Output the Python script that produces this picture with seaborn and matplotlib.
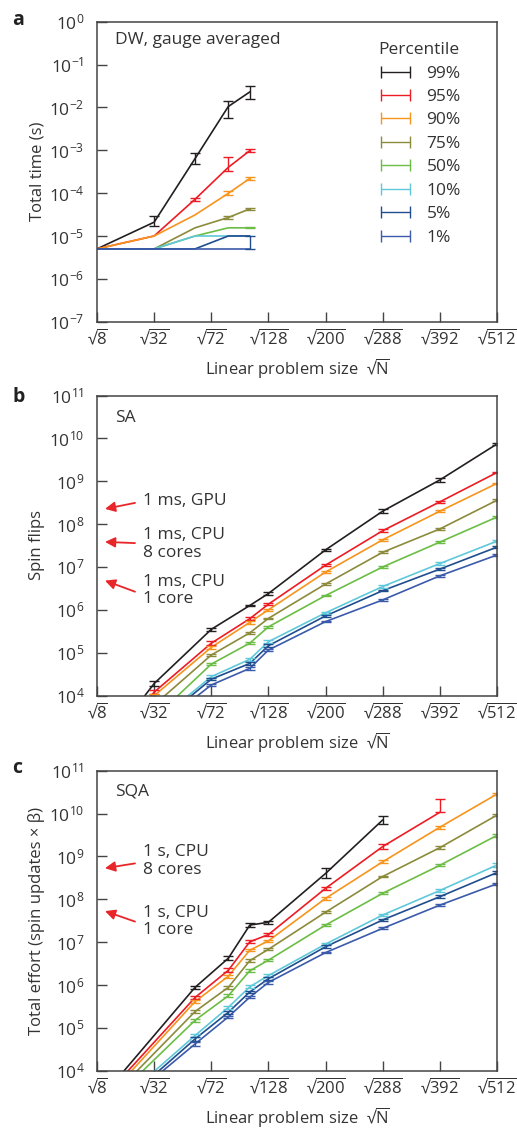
import numpy as np
import pandas as pd
import matplotlib
matplotlib.use("Agg")
import matplotlib.pyplot as plt
import seaborn as sns
from matplotlib.ticker import LogFormatterMathtext, NullLocator, FixedLocator
from matplotlib.container import ErrorbarContainer
from matplotlib.legend_handler import HandlerErrorbar

# ---------------- data ----------------
percentiles = ["99%", "95%", "90%", "75%", "50%", "10%", "5%", "1%"]
colors = ["#231f20", "#ed1c24", "#f7941d", "#8c8a3b", "#6cbd45", "#5fc8da", "#1f4d8e", "#3b5aaa"]

tick_N = [8, 32, 72, 128, 200, 288, 392, 512]
tick_labels = ["$\u221a\\overline{8}$", "$\u221a\\overline{32}$", "$\u221a\\overline{72}$",
               "$\u221a\\overline{128}$", "$\u221a\\overline{200}$", "$\u221a\\overline{288}$",
               "$\u221a\\overline{392}$", "$\u221a\\overline{512}$"]

# Panel a: DW, gauge averaged (total time, s)
dw_N = [8, 32, 59, 87, 108]
dw_vals = {
    "99%": [5.0e-6, 2.1e-5, 6.4e-4, 1.05e-2, 2.3e-2],
    "95%": [5.0e-6, 1.0e-5, 7.2e-5, 4.0e-4, 9.8e-4],
    "90%": [5.0e-6, 1.0e-5, 3.1e-5, 9.9e-5, 2.2e-4],
    "75%": [5.0e-6, 5.0e-6, 1.55e-5, 2.7e-5, 4.3e-5],
    "50%": [5.0e-6, 5.0e-6, 1.0e-5, 1.55e-5, 1.55e-5],
    "10%": [5.0e-6, 5.0e-6, 1.0e-5, 1.0e-5, 1.0e-5],
    "5%":  [5.0e-6, 5.0e-6, 5.0e-6, 1.0e-5, 1.0e-5],
    "1%":  [5.0e-6, 5.0e-6, 5.0e-6, 5.0e-6, 5.0e-6],
}
# error bar extents in decades (lower, upper)
dw_err_lo = {
    "99%": [0, 0.10, 0.13, 0.27, 0.17], "95%": [0, 0, 0.03, 0.08, 0.03],
    "90%": [0, 0, 0, 0.04, 0.03], "75%": [0, 0, 0, 0.03, 0.02],
    "50%": [0, 0, 0, 0, 0.01], "10%": [0, 0, 0, 0, 0],
    "5%": [0, 0, 0, 0, 0.30], "1%": [0, 0, 0, 0, 0],
}
dw_err_hi = {
    "99%": [0, 0.14, 0.12, 0.14, 0.14], "95%": [0, 0, 0.03, 0.24, 0.04],
    "90%": [0, 0, 0, 0.05, 0.03], "75%": [0, 0, 0, 0.04, 0.03],
    "50%": [0, 0, 0, 0, 0.01], "10%": [0, 0, 0, 0, 0],
    "5%": [0, 0, 0, 0, 0.0], "1%": [0, 0, 0, 0, 0],
}

# Panel b: SA (spin flips)
sa_N = [8, 32, 72, 108, 128, 200, 288, 392, 512]
sa_vals = {
    "99%": [3.5e2, 1.9e4, 3.5e5, 1.26e6, 2.4e6, 2.5e7, 2.0e8, 1.07e9, 7.4e9],
    "95%": [2.5e2, 1.2e4, 1.66e5, 6.2e5, 1.35e6, 1.1e7, 7.0e7, 3.3e8, 1.6e9],
    "90%": [2.0e2, 9.9e3, 1.33e5, 5.1e5, 1.0e6, 7.6e6, 4.3e7, 2.0e8, 8.9e8],
    "75%": [1.5e2, 6.0e3, 8.8e4, 2.9e5, 6.3e5, 4.0e6, 2.2e7, 7.7e7, 3.6e8],
    "50%": [1.2e2, 3.0e3, 5.4e4, 1.67e5, 4.0e5, 2.15e6, 1.0e7, 3.8e7, 1.46e8],
    "10%": [1.0e2, 2.2e3, 2.75e4, 7.0e4, 1.8e5, 8.5e5, 3.5e6, 1.2e7, 4.0e7],
    "5%":  [9.0e1, 1.9e3, 2.4e4, 5.6e4, 1.45e5, 7.2e5, 2.8e6, 8.9e6, 2.9e7],
    "1%":  [8.0e1, 1.6e3, 1.76e4, 4.3e4, 1.15e5, 5.3e5, 1.7e6, 6.2e6, 1.9e7],
}
sa_err = {
    "99%": [0, 0.05, 0.04, 0.02, 0.03, 0.03, 0.04, 0.04, 0.02],
    "95%": [0, 0.04, 0.04, 0.03, 0.03, 0.03, 0.03, 0.03, 0.02],
    "90%": [0, 0.03, 0.03, 0.03, 0.03, 0.03, 0.02, 0.02, 0.02],
    "75%": [0, 0.03, 0.02, 0.02, 0.02, 0.02, 0.02, 0.02, 0.02],
    "50%": [0, 0.02, 0.02, 0.02, 0.02, 0.02, 0.02, 0.02, 0.02],
    "10%": [0, 0.03, 0.03, 0.03, 0.03, 0.03, 0.03, 0.03, 0.02],
    "5%":  [0, 0.03, 0.03, 0.03, 0.03, 0.02, 0.02, 0.02, 0.02],
    "1%":  [0, 0.03, 0.03, 0.03, 0.03, 0.02, 0.02, 0.02, 0.02],
}

# Panel c: SQA (total effort)
sqa_N = [8, 59, 87, 108, 128, 200, 288, 392, 512]
sqa_vals = {
    "99%": [1.8e3, 8.8e5, 4.2e6, 2.5e7, 2.9e7, 4.0e8, 7.1e9],
    "95%": [1.6e3, 5.1e5, 2.2e6, 1.02e7, 1.5e7, 1.8e8, 1.7e9, 1.07e10],
    "90%": [1.3e3, 4.1e5, 1.6e6, 6.5e6, 1.07e7, 1.05e8, 7.5e8, 4.8e9, 2.85e10],
    "75%": [1.1e3, 2.4e5, 8.8e5, 3.7e6, 6.8e6, 5.0e7, 3.4e8, 1.6e9, 9.2e9],
    "50%": [9.2e2, 1.5e5, 5.6e5, 2.15e6, 3.8e6, 2.5e7, 1.38e8, 6.2e8, 3.1e9],
    "10%": [6.5e2, 6.6e4, 3.0e5, 9.1e5, 1.66e6, 9.0e6, 4.3e7, 1.6e8, 6.3e8],
    "5%":  [5.3e2, 5.5e4, 2.3e5, 6.9e5, 1.4e6, 7.8e6, 3.3e7, 1.15e8, 4.2e8],
    "1%":  [5.2e2, 4.2e4, 1.8e5, 5.2e5, 1.15e6, 5.7e6, 2.1e7, 7.3e7, 2.3e8],
}
sqa_err_lo = {
    "99%": [0, 0.04, 0.05, 0.05, 0.03, 0.10, 0.10],
    "95%": [0, 0.04, 0.05, 0.03, 0.03, 0.04, 0.05, 0.0],
    "90%": [0, 0.04, 0.04, 0.03, 0.03, 0.04, 0.04, 0.04, 0.02],
    "75%": [0, 0.03, 0.04, 0.03, 0.02, 0.02, 0.02, 0.03, 0.02],
    "50%": [0, 0.03, 0.03, 0.03, 0.02, 0.02, 0.02, 0.02, 0.03],
    "10%": [0, 0.04, 0.03, 0.03, 0.03, 0.03, 0.03, 0.03, 0.04],
    "5%":  [0, 0.04, 0.03, 0.03, 0.03, 0.03, 0.03, 0.03, 0.03],
    "1%":  [0, 0.04, 0.03, 0.03, 0.03, 0.02, 0.02, 0.02, 0.02],
}
sqa_err_hi = {
    "99%": [0, 0.04, 0.05, 0.05, 0.03, 0.12, 0.10],
    "95%": [0, 0.04, 0.05, 0.03, 0.03, 0.04, 0.06, 0.30],
    "90%": [0, 0.04, 0.04, 0.03, 0.03, 0.04, 0.04, 0.04, 0.02],
    "75%": [0, 0.03, 0.04, 0.03, 0.02, 0.02, 0.02, 0.03, 0.02],
    "50%": [0, 0.03, 0.03, 0.03, 0.02, 0.02, 0.02, 0.02, 0.03],
    "10%": [0, 0.04, 0.03, 0.03, 0.03, 0.03, 0.03, 0.03, 0.04],
    "5%":  [0, 0.04, 0.03, 0.03, 0.03, 0.03, 0.03, 0.03, 0.03],
    "1%":  [0, 0.04, 0.03, 0.03, 0.03, 0.02, 0.02, 0.02, 0.02],
}

# ---------------- style ----------------
sns.set_style("ticks")
FONT = "Open Sans"
plt.rcParams["font.family"] = [FONT, "DejaVu Sans"]
plt.rcParams["mathtext.fontset"] = "custom"
plt.rcParams["mathtext.rm"] = FONT
plt.rcParams["mathtext.it"] = FONT + ":italic"
plt.rcParams["mathtext.bf"] = FONT + ":bold"
plt.rcParams["mathtext.fallback"] = "stixsans"
TXT = "#333333"
SPINE = "#444444"
RED = "#e8262a"

fig = plt.figure(figsize=(5.17, 11.28), dpi=100)
W, H = 517.0, 1128.0
left, width = 97 / W, 400 / W
ax_h = 300 / H
axes_bottoms = [1 - 321.7 / H, 1 - 695.5 / H, 1 - 1070.7 / H]
axs = [fig.add_axes([left, b, width, ax_h]) for b in axes_bottoms]

palette = dict(zip(percentiles, colors))


def long_df(N, vals):
    rows = []
    for p in percentiles:
        for n, v in zip(N, vals[p]):
            rows.append({"x": np.sqrt(n), "y": v, "pct": p})
    return pd.DataFrame(rows)


def draw_panel(ax, N, vals, err_lo, err_hi):
    df = long_df(N, vals)
    sns.lineplot(data=df, x="x", y="y", hue="pct", hue_order=percentiles,
                 palette=palette, estimator=None, sort=False, legend=False,
                 linewidth=1.2, ax=ax)
    for p in percentiles:
        y = np.array(vals[p])
        x = np.sqrt(np.array(N[:len(y)], dtype=float))
        lo = np.array(err_lo[p][:len(y)], dtype=float)
        hi = np.array(err_hi[p][:len(y)], dtype=float)
        mask = (lo > 0) | (hi > 0)
        if mask.any():
            yl = y[mask] - y[mask] * 10 ** (-lo[mask])
            yh = y[mask] * 10 ** (hi[mask]) - y[mask]
            ax.errorbar(x[mask], y[mask], yerr=[yl, yh], fmt="none",
                        ecolor=palette[p], elinewidth=1.0, capsize=3.5,
                        capthick=1.0)


def style_axis(ax, ylim, ylabel):
    ax.set_yscale("log")
    ax.set_ylim(*ylim)
    ax.set_xlim(np.sqrt(8), np.sqrt(512))
    lo, hi = int(np.log10(ylim[0])), int(np.log10(ylim[1]))
    ax.yaxis.set_major_locator(FixedLocator([10.0 ** k for k in range(lo, hi + 1)]))
    ax.yaxis.set_major_formatter(LogFormatterMathtext())
    ax.yaxis.set_minor_locator(NullLocator())
    ax.set_xticks(np.sqrt(tick_N))
    ax.set_xticklabels(tick_labels)
    ax.xaxis.set_minor_locator(NullLocator())
    ax.tick_params(axis="both", direction="in", length=7, width=1.0,
                   color=SPINE, labelcolor=TXT)
    ax.tick_params(axis="x", pad=5, labelsize=12)
    ax.tick_params(axis="y", pad=9, labelsize=12.5)
    for s in ax.spines.values():
        s.set_visible(True)
        s.set_color(SPINE)
        s.set_linewidth(1.1)
    ax.set_xlabel("Linear problem size  $\u221a\\overline{\\mathrm{N}}$", fontsize=12, color=TXT)
    ax.xaxis.set_label_coords(0.5, -0.118)
    ax.set_ylabel(ylabel, fontsize=12, color=TXT)
    ax.yaxis.set_label_coords(-0.13, 0.5)


# ---------------- panel a ----------------
ax = axs[0]
draw_panel(ax, dw_N, dw_vals, dw_err_lo, dw_err_hi)
style_axis(ax, (1e-7, 1e0), "Total time (s)")
ax.text(0.045, 0.94, "DW, gauge averaged", transform=ax.transAxes,
        ha="left", va="center", fontsize=12.5, color=TXT)
handles = []
for p in percentiles:
    h = ax.errorbar([np.nan], [np.nan], xerr=[[1.0], [1.0]], fmt="none",
                    ecolor=palette[p], elinewidth=1.0, capsize=4, capthick=1.0,
                    label=p)
    handles.append(h)
leg = ax.legend(handles=handles, labels=percentiles, title="Percentile",
                loc="upper left", bbox_to_anchor=(0.685, 0.955), frameon=False,
                fontsize=12.5, title_fontsize=12.5, labelspacing=0.42,
                handlelength=2.0, handletextpad=0.8, borderaxespad=0.0,
                alignment="left",
                handler_map={ErrorbarContainer: HandlerErrorbar(xerr_size=0.85)})
for t in leg.get_texts():
    t.set_color(TXT)
leg.get_title().set_color(TXT)

# ---------------- panel b ----------------
ax = axs[1]
draw_panel(ax, sa_N, sa_vals, sa_err, sa_err)
style_axis(ax, (1e4, 1e11), "Spin flips")
ax.text(0.045, 0.925, "SA", transform=ax.transAxes, ha="left", va="center",
        fontsize=12.5, color=TXT)
b_notes = [("1 ms, GPU", (0.02, 0.622), (0.095, 0.642), 0.649),
           ("1 ms, CPU\n8 cores", (0.02, 0.512), (0.095, 0.508), 0.505),
           ("1 ms, CPU\n1 core", (0.02, 0.383), (0.095, 0.346), 0.35)]
for txt, head, tail, ty in b_notes:
    ax.annotate("", xy=head, xytext=tail, xycoords="axes fraction",
                textcoords="axes fraction",
                arrowprops=dict(arrowstyle="-|>", color=RED, lw=1.3,
                                mutation_scale=15, shrinkA=0, shrinkB=0))
    ax.text(0.115, ty, txt, transform=ax.transAxes, ha="left", va="center",
            fontsize=12.5, color=TXT, linespacing=1.15)

# ---------------- panel c ----------------
ax = axs[2]
draw_panel(ax, sqa_N, sqa_vals, sqa_err_lo, sqa_err_hi)
style_axis(ax, (1e4, 1e11), "Total effort (spin updates \u00d7 \u03b2)")
ax.text(0.045, 0.93, "SQA", transform=ax.transAxes, ha="left", va="center",
        fontsize=12.5, color=TXT)
c_notes = [("1 s, CPU\n8 cores", (0.02, 0.675), (0.095, 0.691), 0.698),
           ("1 s, CPU\n1 core", (0.02, 0.532), (0.095, 0.497), 0.497)]
for txt, head, tail, ty in c_notes:
    ax.annotate("", xy=head, xytext=tail, xycoords="axes fraction",
                textcoords="axes fraction",
                arrowprops=dict(arrowstyle="-|>", color=RED, lw=1.3,
                                mutation_scale=15, shrinkA=0, shrinkB=0))
    ax.text(0.115, ty, txt, transform=ax.transAxes, ha="left", va="center",
            fontsize=12.5, color=TXT, linespacing=1.15)

# panel letters
for lab, (px, py) in zip(["a", "b", "c"], [(12, 20), (12, 397), (12, 768)]):
    fig.text(px / W, 1 - py / H, lab, fontsize=14, fontweight="bold",
             ha="left", va="center", color="#222222")

fig.savefig("out.png", dpi=100)
